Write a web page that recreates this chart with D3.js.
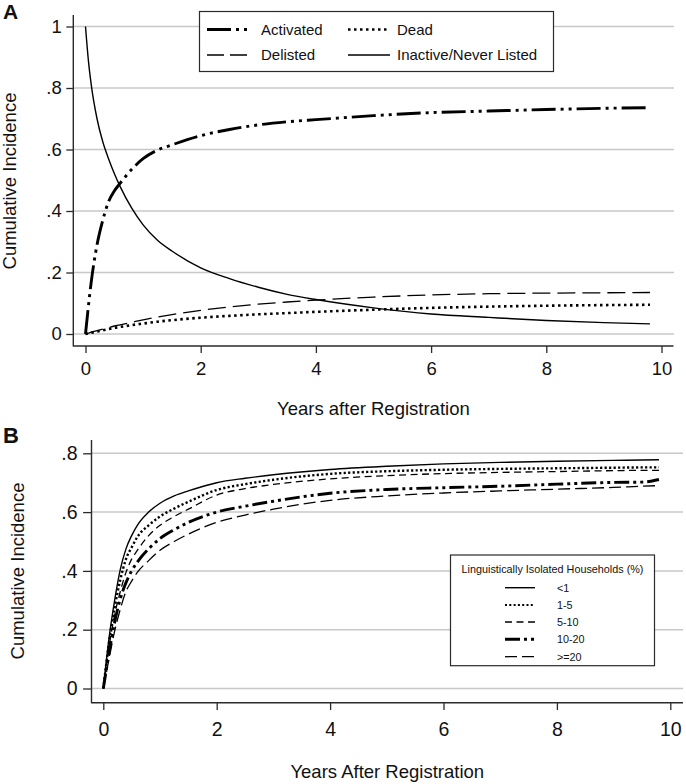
<!DOCTYPE html>
<html><head><meta charset="utf-8">
<script src="https://cdn.jsdelivr.net/npm/d3@7"></script>
<style>
body{margin:0;background:#fff}
svg{display:block}
text{font-family:"Liberation Sans",Arial,Helvetica,sans-serif;fill:#111}
</style>
</head><body>
<svg id="chart" width="686" height="784"></svg>
<script>
// ---------- Panel A data ----------
const yearsA = [0,0.05,0.1,0.2,0.3,0.4,0.5,0.6,0.8,1,1.25,1.5,2,2.5,3,3.5,4,5,6,7,8,9,9.8];
const activated = [0,0.09,0.17,0.29,0.37,0.43,0.465,0.49,0.535,0.57,0.598,0.615,0.645,0.665,0.68,0.69,0.697,0.71,0.72,0.725,0.73,0.734,0.736];
const delisted  = [0,0.003,0.006,0.011,0.016,0.021,0.026,0.03,0.038,0.046,0.055,0.063,0.077,0.088,0.097,0.104,0.11,0.12,0.127,0.131,0.133,0.134,0.135];
const dead      = [0,0.002,0.004,0.008,0.012,0.016,0.02,0.023,0.029,0.034,0.04,0.045,0.053,0.059,0.064,0.068,0.072,0.079,0.085,0.089,0.092,0.094,0.095];
const inactive  = [1,0.89,0.81,0.70,0.625,0.57,0.522,0.48,0.41,0.355,0.305,0.27,0.215,0.18,0.152,0.129,0.112,0.085,0.065,0.054,0.044,0.037,0.033];
const seriesNamesA = ["Activated","Dead","Delisted","Inactive/Never Listed"];

// ---------- Panel B data ----------
const yearsB = [0,0.05,0.1,0.2,0.3,0.4,0.5,0.6,0.8,1,1.25,1.5,2,2.5,3,4,5,6,7,8,9,9.5,9.8];
const lt1   = [0,0.09,0.17,0.30,0.405,0.475,0.52,0.555,0.60,0.63,0.655,0.672,0.70,0.715,0.727,0.745,0.756,0.764,0.769,0.773,0.776,0.777,0.778];
const r1_5  = [0,0.08,0.155,0.275,0.37,0.44,0.48,0.515,0.555,0.585,0.612,0.635,0.675,0.695,0.71,0.73,0.739,0.744,0.747,0.749,0.751,0.752,0.752];
const r5_10 = [0,0.07,0.14,0.25,0.33,0.395,0.44,0.47,0.52,0.555,0.585,0.61,0.658,0.68,0.694,0.713,0.724,0.731,0.735,0.738,0.741,0.742,0.742];
const r10_20= [0,0.06,0.12,0.225,0.305,0.36,0.40,0.43,0.475,0.51,0.54,0.565,0.60,0.62,0.637,0.664,0.677,0.683,0.688,0.695,0.701,0.702,0.711];
const r20   = [0,0.05,0.10,0.195,0.27,0.33,0.365,0.395,0.435,0.47,0.50,0.525,0.565,0.59,0.61,0.64,0.655,0.665,0.672,0.678,0.684,0.688,0.69];
const seriesNamesB = ["<1","1-5","5-10","10-20",">=20"];
const legendTitleB = "Linguistically Isolated Households (%)";

// ---------- ticks ----------
const xTicks = [0,2,4,6,8,10];
const yTicksA = [0,0.2,0.4,0.6,0.8,1];
const yLabelsA = ["0",".2",".4",".6",".8","1"];
const yTicksB = [0,0.2,0.4,0.6,0.8];
const yLabelsB = ["0",".2",".4",".6",".8"];

// ---------- styles ----------
const styles = {
  solid:   {w:1.4, dash:null},
  dotA:    {w:2.6, dash:"2.5,3.5"},
  dashA:   {w:1.3, dash:"18,7"},
  dashdotA:{w:2.9, dash:"24,5,3,5,3,5"},
  dotB:    {w:2.4, dash:"2.2,2.3"},
  dashB:   {w:1.3, dash:"7,4.5"},
  dashdotB:{w:2.9, dash:"15,4,3,4,3,4"},
  longB:   {w:1.3, dash:"12,5"}
};

const svg = d3.select("#chart");
const GRID = "#c8c8c8", AX = "#2a2a2a";

function panel(cfg){
  const g = svg.append("g");
  const x = d3.scaleLinear([0,10],[cfg.x0,cfg.x10]);
  const y = d3.scaleLinear(cfg.yDomain,cfg.yRange);
  g.selectAll("line.grid").data(cfg.yTicks).join("line")
    .attr("x1",cfg.axisX).attr("x2",cfg.gridEnd)
    .attr("y1",d=>y(d)).attr("y2",d=>y(d))
    .attr("stroke",GRID).attr("stroke-width",1.5);
  const ya = g.append("g").attr("transform",`translate(${cfg.axisX},0)`)
    .call(d3.axisLeft(y).tickValues(cfg.yTicks).tickFormat((d,i)=>cfg.yLabels[i])
      .tickSize(cfg.ytick).tickPadding(cfg.ypad));
  ya.select(".domain").remove();
  ya.selectAll(".tick line").attr("stroke",AX).attr("stroke-width",1.3);
  ya.selectAll(".tick text").style("font-size",cfg.tickFont+"px").attr("fill","#111");
  const xa = g.append("g").attr("transform",`translate(0,${cfg.axisY})`)
    .call(d3.axisBottom(x).tickValues(xTicks).tickSize(cfg.xtick).tickPadding(cfg.xpad));
  xa.select(".domain").remove();
  xa.selectAll(".tick line").attr("stroke",AX).attr("stroke-width",1.3);
  xa.selectAll(".tick text").style("font-size",cfg.tickFont+"px").attr("fill","#111");
  g.append("line").attr("x1",cfg.axisX).attr("x2",cfg.axisX).attr("y1",cfg.axisTop).attr("y2",cfg.axisY+0.6)
    .attr("stroke",AX).attr("stroke-width",1.4);
  g.append("line").attr("x1",cfg.axisX).attr("x2",cfg.axisEnd).attr("y1",cfg.axisY).attr("y2",cfg.axisY)
    .attr("stroke",AX).attr("stroke-width",1.4);
  const line = d3.line().curve(d3.curveMonotoneX);
  cfg.series.forEach(s=>{
    const pts = cfg.years.map((t,i)=>[x(t),y(s.values[i])]);
    const p = g.append("path").attr("d",line(pts)).attr("fill","none")
      .attr("stroke","#000").attr("stroke-width",s.style.w);
    if(s.style.dash) p.attr("stroke-dasharray",s.style.dash);
  });
  g.append("text").attr("transform",`translate(${cfg.yTitleX},${cfg.yTitleY}) rotate(-90)`)
    .attr("text-anchor","middle").style("font-size",cfg.titleFont+"px").text("Cumulative Incidence");
  g.append("text").attr("x",(cfg.axisX+cfg.axisEnd)/2).attr("y",cfg.xTitleY)
    .attr("text-anchor","middle").style("font-size",cfg.titleFont+"px").text(cfg.xTitle);
  g.append("text").attr("x",3).attr("y",cfg.letterY).style("font-size",cfg.letterFont+"px")
    .style("font-weight","bold").text(cfg.letter);
  return g;
}

function sample(g,x1,x2,yy,st){
  const l = g.append("line").attr("x1",x1).attr("x2",x2).attr("y1",yy).attr("y2",yy)
    .attr("stroke","#000").attr("stroke-width",st.w);
  if(st.dash) l.attr("stroke-dasharray",st.dash);
}

// ----- Panel A -----
panel({
  x0:85.5, x10:661.5, yDomain:[0,1], yRange:[334,26.5],
  axisX:73.3, axisY:346, axisTop:15, axisEnd:673.5, gridEnd:674,
  yTicks:yTicksA, yLabels:yLabelsA, ytick:7, ypad:4.5, xtick:7, xpad:9,
  tickFont:18.5, titleFont:18.5, yTitleX:16, yTitleY:181, xTitleY:415, xTitle:"Years after Registration",
  letter:"A", letterY:19, letterFont:21, years:yearsA,
  series:[
    {values:inactive, style:styles.solid},
    {values:dead, style:styles.dotA},
    {values:delisted, style:styles.dashA},
    {values:activated, style:styles.dashdotA}
  ]
});
const lgA = svg.append("g");
lgA.append("rect").attr("x",199.5).attr("y",11.5).attr("width",354).attr("height",60)
  .attr("fill","#fff").attr("stroke",AX).attr("stroke-width",1.2);
const legA = [
  {name:seriesNamesA[0], st:styles.dashdotA, sx:207, ex:247, tx:261, y:29.5},
  {name:seriesNamesA[1], st:styles.dotA, sx:348, ex:390, tx:397, y:29.5},
  {name:seriesNamesA[2], st:{w:1.3,dash:"17,6"}, sx:207, ex:247, tx:261, y:55},
  {name:seriesNamesA[3], st:styles.solid, sx:348, ex:390, tx:397, y:55}
];
legA.forEach(d=>{
  sample(lgA,d.sx,d.ex,d.y,d.st);
  lgA.append("text").attr("x",d.tx).attr("y",d.y+5.3).style("font-size","15px").text(d.name);
});

// ----- Panel B -----
panel({
  x0:103.3, x10:670.3, yDomain:[0,0.8], yRange:[688.5,453.3],
  axisX:91.5, axisY:702.7, axisTop:440, axisEnd:683, gridEnd:683,
  yTicks:yTicksB, yLabels:yLabelsB, ytick:8.4, ypad:5.5, xtick:7.3, xpad:12,
  tickFont:19.5, titleFont:18.5, yTitleX:24, yTitleY:571, xTitleY:778, xTitle:"Years After Registration",
  letter:"B", letterY:443, letterFont:22, years:yearsB,
  series:[
    {values:r20, style:styles.longB},
    {values:r10_20, style:styles.dashdotB},
    {values:r5_10, style:styles.dashB},
    {values:r1_5, style:styles.dotB},
    {values:lt1, style:styles.solid}
  ]
});
const lgB = svg.append("g");
lgB.append("rect").attr("x",450.5).attr("y",555).attr("width",204).attr("height",110.7)
  .attr("fill","#fff").attr("stroke",AX).attr("stroke-width",1.2);
lgB.append("text").attr("x",552.5).attr("y",572.8).attr("text-anchor","middle")
  .style("font-size","10.8px").text(legendTitleB);
const legBStyles = [styles.solid, {w:2.2,dash:"2,2.3"}, {w:1.3,dash:"7,4.5"}, {w:2.9,dash:"15,4,3,4,3,4"}, {w:1.3,dash:"12,5"}];
const legBy = [587.7,605,622,639.3,656.7];
seriesNamesB.forEach((n,i)=>{
  sample(lgB,505,535,legBy[i],legBStyles[i]);
  lgB.append("text").attr("x",557).attr("y",legBy[i]+3.9).style("font-size","10.8px").text(n);
});
</script>
</body></html>
